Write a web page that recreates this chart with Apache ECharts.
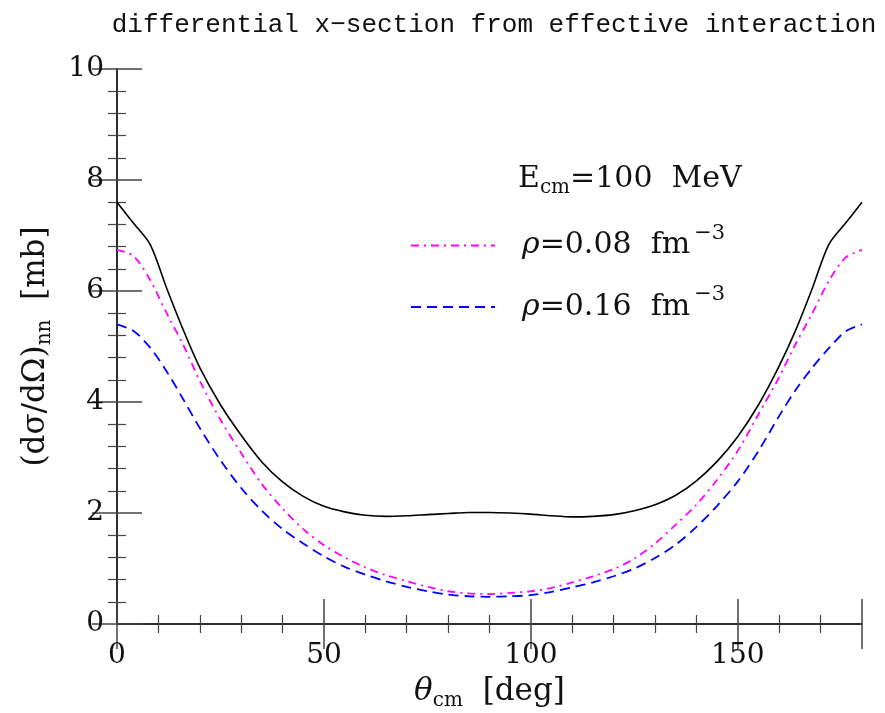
<!DOCTYPE html>
<html>
<head>
<meta charset="utf-8">
<script src="https://cdn.jsdelivr.net/npm/echarts@6/dist/echarts.min.js"></script>
<style>
  html, body { margin: 0; padding: 0; background: #fff; }
  #chart { width: 885px; height: 713px; }
</style>
</head>
<body>
<div id="chart"></div>
<script>
// scattering angle in cm frame [deg]
const theta = [0, 4, 8, 12, 16, 20, 25, 30, 35, 40, 45, 50, 55, 60, 65, 70, 75, 80, 85, 90,
  95, 100, 105, 110, 115, 120, 125, 130, 135, 140, 145, 150, 155, 160, 164, 168, 172, 176, 180];
// free space (solid black)
const sigFree = [7.60, 7.22, 6.84, 6.05, 5.30, 4.62, 3.95, 3.40, 2.92, 2.56, 2.30, 2.12, 2.02, 1.96, 1.94, 1.95, 1.97, 1.99, 2.01, 2.01,
  2.00, 1.98, 1.95, 1.93, 1.94, 1.97, 2.04, 2.15, 2.32, 2.58, 2.93, 3.38, 3.95, 4.65, 5.30, 6.05, 6.84, 7.22, 7.60];
// rho = 0.08 fm^-3 (magenta dash-dot)
const sigRho008 = [6.74, 6.63, 6.20, 5.60, 5.03, 4.38, 3.68, 3.08, 2.52, 2.08, 1.71, 1.42, 1.20, 1.02, 0.88, 0.77, 0.67, 0.59, 0.55, 0.54,
  0.56, 0.59, 0.65, 0.75, 0.86, 0.99, 1.18, 1.45, 1.79, 2.15, 2.60, 3.12, 3.78, 4.45, 5.05, 5.60, 6.18, 6.60, 6.74];
// rho = 0.16 fm^-3 (blue dashed)
const sigRho016 = [5.40, 5.28, 4.98, 4.55, 4.05, 3.53, 2.95, 2.45, 2.04, 1.71, 1.45, 1.22, 1.03, 0.89, 0.77, 0.67, 0.59, 0.53, 0.50, 0.49,
  0.50, 0.52, 0.58, 0.66, 0.75, 0.86, 1.00, 1.19, 1.43, 1.75, 2.13, 2.57, 3.12, 3.75, 4.22, 4.62, 4.97, 5.27, 5.40];

const seriesNames = ["rho008", "rho016"];

const chart = echarts.init(document.getElementById("chart"));

const SERIF = "DejaVu Serif";
const pairs = (ys) => theta.map((t, i) => [t, ys[i]]);

const tickCommon = {
  axisLine: { show: true, lineStyle: { color: "#222", width: 1.5 } },
  axisTick: { show: true, inside: true, length: 25, lineStyle: { color: "#444", width: 1.5 } },
  minorTick: { show: true, splitNumber: 5, length: 9, lineStyle: { color: "#444", width: 1.2 } },
  splitLine: { show: false },
};

const option = {
  animation: false,
  backgroundColor: "#fff",
  title: {
    text: "differential x\u2212section from effective interaction",
    left: 489,
    textAlign: "center",
    top: 7,
    textStyle: { fontFamily: "Liberation Mono", fontSize: 26, fontWeight: "normal", color: "#111" },
  },
  grid: { left: 117, right: 23, top: 69, bottom: 89, outerBoundsMode: "none", containLabel: false },
  legend: {
    data: seriesNames,
    orient: "vertical",
    left: 405,
    top: 218,
    itemWidth: 84,
    itemHeight: 14,
    itemGap: 20,
    itemStyle: { color: "rgba(0,0,0,0)", borderWidth: 0, opacity: 0 },
    textStyle: {
      fontFamily: SERIF, fontSize: 30, color: "#111", lineHeight: 38, padding: [0, 0, 0, 22],
      rich: {
        r: { fontFamily: SERIF, fontSize: 30, fontStyle: "italic", color: "#111" },
        t: { fontFamily: SERIF, fontSize: 30, color: "#111" },
        sup: { fontFamily: SERIF, fontSize: 21, color: "#111", padding: [0, 0, 24, 4] },
      },
    },
    formatter: function (name) {
      if (name === "rho008") return "{r|\u03c1}{t|=0.08  fm}{sup|\u22123}";
      return "{r|\u03c1}{t|=0.16  fm}{sup|\u22123}";
    },
  },
  graphic: [
    {
      type: "text",
      left: 518,
      top: 164,
      style: {
        text: "{t|E}{sub|cm}{t|=100  MeV}",
        rich: {
          t: { fontFamily: SERIF, fontSize: 30, fill: "#111" },
          sub: { fontFamily: SERIF, fontSize: 20, fill: "#111", padding: [18, 0, 0, 0] },
        },
      },
    },
  ],
  xAxis: [
    Object.assign({
      type: "value",
      min: 0,
      max: 180,
      interval: 50,
      name: "{r|\u03b8}{sub|cm}{t|  [deg]}",
      nameLocation: "middle",
      nameGap: 49,
      nameTextStyle: {
        rich: {
          r: { fontFamily: SERIF, fontSize: 31, fontStyle: "italic", color: "#111" },
          t: { fontFamily: SERIF, fontSize: 31, color: "#111" },
          sub: { fontFamily: SERIF, fontSize: 20, color: "#111", padding: [18, 0, 0, 0] },
        },
      },
      axisLabel: { fontFamily: SERIF, fontSize: 28, color: "#111", margin: 18, showMaxLabel: false },
    }, tickCommon),
    Object.assign({
      type: "value",
      position: "top",
      min: 0,
      max: 180,
      interval: 50,
      axisLabel: { show: false },
    }, tickCommon),
  ],
  yAxis: [
    Object.assign({
      type: "value",
      min: 0,
      max: 10,
      interval: 2,
      name: "{t|(d\u03c3/d\u03a9)}{sub|nn}{t|  [mb]}",
      nameLocation: "middle",
      nameGap: 62,
      nameTextStyle: {
        rich: {
          t: { fontFamily: SERIF, fontSize: 31, color: "#111" },
          sub: { fontFamily: SERIF, fontSize: 20, color: "#111", padding: [18, 0, 0, 0] },
        },
      },
      axisLabel: { fontFamily: SERIF, fontSize: 28, color: "#111", margin: 13 },
    }, tickCommon),
    Object.assign({
      type: "value",
      position: "right",
      min: 0,
      max: 10,
      interval: 2,
      axisLabel: { show: false },
    }, tickCommon),
  ],
  series: [
    {
      name: "free",
      type: "line",
      data: pairs(sigFree),
      smooth: 0.3,
      symbol: "none",
      lineStyle: { color: "#000", width: 1.6 },
    },
    {
      name: "rho008",
      type: "line",
      data: pairs(sigRho008),
      smooth: 0.3,
      symbol: "none",
      itemStyle: { color: "#ff00ff" },
      lineStyle: { color: "#ff00ff", width: 1.8, type: [8, 5, 2, 5] },
    },
    {
      name: "rho016",
      type: "line",
      data: pairs(sigRho016),
      smooth: 0.3,
      symbol: "none",
      itemStyle: { color: "#0000ff" },
      lineStyle: { color: "#0000ff", width: 1.8, type: [10, 6] },
    },
  ],
};

chart.setOption(option);
</script>
</body>
</html>
